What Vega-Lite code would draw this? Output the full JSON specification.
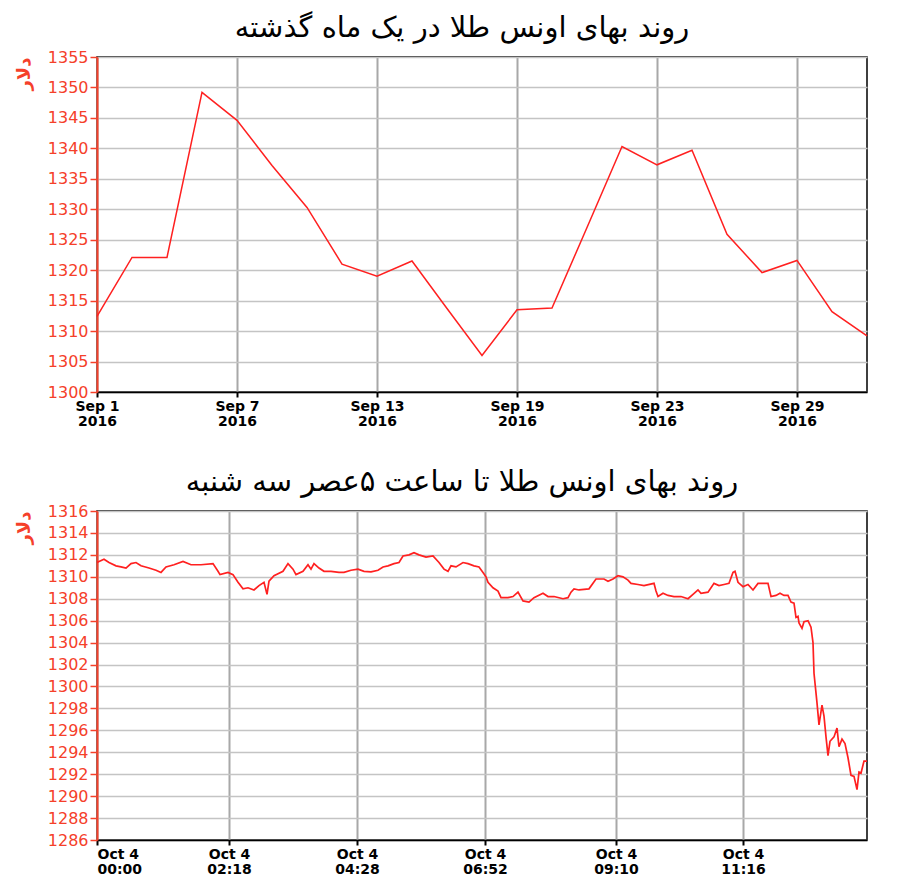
{
  "$schema": "https://vega.github.io/schema/vega-lite/v6.json",
  "padding": {"left": 14, "top": 13, "right": 20, "bottom": 10},
  "spacing": 38,
  "datasets": {
    "month": [
      {"date": "Sep 1", "price": 1312.4},
      {"date": "Sep 2", "price": 1322.1},
      {"date": "Sep 5", "price": 1322.1},
      {"date": "Sep 6", "price": 1349.2},
      {"date": "Sep 7", "price": 1344.6},
      {"date": "Sep 8", "price": 1337.2},
      {"date": "Sep 9", "price": 1330.3},
      {"date": "Sep 12", "price": 1321.0},
      {"date": "Sep 13", "price": 1319.0},
      {"date": "Sep 14", "price": 1321.5},
      {"date": "Sep 15", "price": 1313.7},
      {"date": "Sep 16", "price": 1306.0},
      {"date": "Sep 19", "price": 1313.5},
      {"date": "Sep 20", "price": 1313.8},
      {"date": "Sep 21", "price": 1327.0},
      {"date": "Sep 22", "price": 1340.3},
      {"date": "Sep 23", "price": 1337.3},
      {"date": "Sep 26", "price": 1339.7},
      {"date": "Sep 27", "price": 1325.9},
      {"date": "Sep 28", "price": 1319.6},
      {"date": "Sep 29", "price": 1321.6},
      {"date": "Sep 30", "price": 1313.2},
      {"date": "Oct 3", "price": 1309.2}
    ],
    "today": [
      {"i": 0, "price": 1311.3}, {"i": 2, "price": 1311.4}, {"i": 7, "price": 1311.6},
      {"i": 12, "price": 1311.3}, {"i": 19, "price": 1311.0}, {"i": 24, "price": 1310.9},
      {"i": 29, "price": 1310.8}, {"i": 34, "price": 1311.2}, {"i": 39, "price": 1311.3},
      {"i": 44, "price": 1311.0}, {"i": 52, "price": 1310.8}, {"i": 59, "price": 1310.6},
      {"i": 64, "price": 1310.4}, {"i": 69, "price": 1310.9}, {"i": 77, "price": 1311.1},
      {"i": 86, "price": 1311.4}, {"i": 94, "price": 1311.1}, {"i": 104, "price": 1311.1},
      {"i": 116, "price": 1311.2}, {"i": 121, "price": 1310.5}, {"i": 123, "price": 1310.2},
      {"i": 131, "price": 1310.4}, {"i": 136, "price": 1310.2}, {"i": 141, "price": 1309.5},
      {"i": 146, "price": 1308.9}, {"i": 151, "price": 1309.0}, {"i": 157, "price": 1308.8},
      {"i": 162, "price": 1309.2}, {"i": 167, "price": 1309.5}, {"i": 170, "price": 1308.4},
      {"i": 172, "price": 1309.6}, {"i": 177, "price": 1310.1}, {"i": 186, "price": 1310.5},
      {"i": 191, "price": 1311.2}, {"i": 196, "price": 1310.7}, {"i": 199, "price": 1310.2},
      {"i": 206, "price": 1310.5}, {"i": 211, "price": 1311.1}, {"i": 214, "price": 1310.7},
      {"i": 217, "price": 1311.2}, {"i": 222, "price": 1310.8}, {"i": 227, "price": 1310.5},
      {"i": 234, "price": 1310.5}, {"i": 242, "price": 1310.4}, {"i": 247, "price": 1310.4},
      {"i": 254, "price": 1310.6}, {"i": 261, "price": 1310.7}, {"i": 267, "price": 1310.5},
      {"i": 274, "price": 1310.45}, {"i": 281, "price": 1310.6}, {"i": 286, "price": 1310.9},
      {"i": 291, "price": 1311.0}, {"i": 297, "price": 1311.2}, {"i": 302, "price": 1311.3},
      {"i": 306, "price": 1311.9}, {"i": 312, "price": 1312.0}, {"i": 317, "price": 1312.2},
      {"i": 322, "price": 1312.0}, {"i": 329, "price": 1311.8}, {"i": 336, "price": 1311.9},
      {"i": 342, "price": 1311.3}, {"i": 347, "price": 1310.7}, {"i": 351, "price": 1310.5},
      {"i": 354, "price": 1311.0}, {"i": 359, "price": 1310.9}, {"i": 366, "price": 1311.3},
      {"i": 371, "price": 1311.2}, {"i": 377, "price": 1311.0}, {"i": 382, "price": 1310.9},
      {"i": 386, "price": 1310.4}, {"i": 389, "price": 1310.0}, {"i": 391, "price": 1309.5},
      {"i": 396, "price": 1309.0}, {"i": 401, "price": 1308.7}, {"i": 404, "price": 1308.1},
      {"i": 411, "price": 1308.1}, {"i": 416, "price": 1308.2}, {"i": 421, "price": 1308.6},
      {"i": 426, "price": 1307.8}, {"i": 432, "price": 1307.7}, {"i": 437, "price": 1308.1},
      {"i": 446, "price": 1308.5}, {"i": 451, "price": 1308.2}, {"i": 457, "price": 1308.2},
      {"i": 466, "price": 1308.0}, {"i": 471, "price": 1308.1}, {"i": 474, "price": 1308.6},
      {"i": 477, "price": 1308.9}, {"i": 482, "price": 1308.8}, {"i": 492, "price": 1308.9},
      {"i": 499, "price": 1309.8}, {"i": 507, "price": 1309.8}, {"i": 511, "price": 1309.6},
      {"i": 516, "price": 1309.8}, {"i": 521, "price": 1310.1}, {"i": 526, "price": 1310.0},
      {"i": 531, "price": 1309.7}, {"i": 534, "price": 1309.4}, {"i": 541, "price": 1309.3},
      {"i": 547, "price": 1309.2}, {"i": 557, "price": 1309.4}, {"i": 559, "price": 1308.7},
      {"i": 561, "price": 1308.2}, {"i": 566, "price": 1308.5}, {"i": 571, "price": 1308.3},
      {"i": 577, "price": 1308.2}, {"i": 584, "price": 1308.2}, {"i": 591, "price": 1308.0},
      {"i": 596, "price": 1308.4}, {"i": 601, "price": 1308.8}, {"i": 604, "price": 1308.5},
      {"i": 611, "price": 1308.6}, {"i": 617, "price": 1309.4}, {"i": 622, "price": 1309.2},
      {"i": 627, "price": 1309.3}, {"i": 632, "price": 1309.4}, {"i": 636, "price": 1310.4},
      {"i": 638, "price": 1310.5}, {"i": 641, "price": 1309.5}, {"i": 646, "price": 1309.1},
      {"i": 651, "price": 1309.3}, {"i": 656, "price": 1308.8}, {"i": 661, "price": 1309.4},
      {"i": 666, "price": 1309.4}, {"i": 671, "price": 1309.4}, {"i": 674, "price": 1308.2},
      {"i": 679, "price": 1308.3}, {"i": 683, "price": 1308.5}, {"i": 687, "price": 1308.3},
      {"i": 691, "price": 1308.3}, {"i": 694, "price": 1307.7}, {"i": 697, "price": 1307.6},
      {"i": 699, "price": 1306.3}, {"i": 701, "price": 1306.4}, {"i": 702, "price": 1305.8},
      {"i": 705, "price": 1305.3}, {"i": 707, "price": 1305.9}, {"i": 711, "price": 1306.0},
      {"i": 714, "price": 1305.4}, {"i": 716, "price": 1304.0}, {"i": 717, "price": 1301.2},
      {"i": 720, "price": 1298.5}, {"i": 722, "price": 1296.5}, {"i": 725, "price": 1298.3},
      {"i": 727, "price": 1297.3}, {"i": 729, "price": 1295.4}, {"i": 731, "price": 1293.7},
      {"i": 733, "price": 1295.0}, {"i": 737, "price": 1295.4}, {"i": 740, "price": 1296.2},
      {"i": 742, "price": 1294.5}, {"i": 745, "price": 1295.2}, {"i": 748, "price": 1294.8},
      {"i": 751, "price": 1293.5}, {"i": 754, "price": 1291.9}, {"i": 757, "price": 1291.8},
      {"i": 760, "price": 1290.6}, {"i": 762, "price": 1292.2}, {"i": 764, "price": 1292.1},
      {"i": 767, "price": 1293.2}, {"i": 770, "price": 1293.2}
    ]
  },
  "vconcat": [
    {
      "title": {"text": "روند بهای اونس طلا در یک ماه گذشته", "dx": -20},
      "width": 770,
      "height": 335,
      "data": {"name": "month"},
      "mark": {"type": "line", "color": "#ff2020", "strokeWidth": 1.5},
      "encoding": {
        "x": {
          "field": "date",
          "type": "ordinal",
          "sort": null,
          "scale": {"type": "point", "padding": 0},
          "axis": {
            "values": ["Sep 1", "Sep 7", "Sep 13", "Sep 19", "Sep 23", "Sep 29"],
            "labelExpr": "[datum.label, '2016']",
            "title": null
          }
        },
        "y": {
          "field": "price",
          "type": "quantitative",
          "scale": {"domain": [1300, 1355], "nice": false, "zero": false},
          "axis": {
            "values": [1300, 1305, 1310, 1315, 1320, 1325, 1330, 1335, 1340, 1345, 1350, 1355],
            "format": "d",
            "title": "دلار"
          }
        }
      }
    },
    {
      "title": {"text": "روند بهای اونس طلا تا ساعت ۵عصر سه شنبه", "dx": -20},
      "width": 770,
      "height": 329,
      "data": {"name": "today"},
      "mark": {"type": "line", "color": "#ff2020", "strokeWidth": 1.7},
      "encoding": {
        "x": {
          "field": "i",
          "type": "quantitative",
          "scale": {"domain": [0, 770], "nice": false, "zero": false},
          "axis": {
            "values": [0, 132, 260, 388, 519, 646],
            "labelExpr": "['Oct 4', datum.value == 0 ? '00:00' : datum.value == 132 ? '02:18' : datum.value == 260 ? '04:28' : datum.value == 388 ? '06:52' : datum.value == 519 ? '09:10' : '11:16']",
            "title": null
          }
        },
        "y": {
          "field": "price",
          "type": "quantitative",
          "scale": {"domain": [1286, 1316], "nice": false, "zero": false},
          "axis": {
            "values": [1286, 1288, 1290, 1292, 1294, 1296, 1298, 1300, 1302, 1304, 1306, 1308, 1310, 1312, 1314, 1316],
            "format": "d",
            "title": "دلار"
          }
        }
      }
    }
  ],
  "config": {
    "background": "white",
    "view": {"stroke": "black", "strokeWidth": 1.5},
    "title": {
      "font": "DejaVu Sans",
      "fontSize": 29,
      "fontWeight": "normal",
      "color": "black",
      "offset": 6
    },
    "axisX": {
      "labelAngle": 0,
      "labelFont": "DejaVu Sans",
      "labelFontWeight": "bold",
      "labelFontSize": 14,
      "labelColor": "black",
      "labelLineHeight": 15,
      "labelPadding": 2,
      "tickColor": "black",
      "tickSize": 5,
      "tickWidth": 2,
      "domainColor": "black",
      "domainWidth": 1.5,
      "grid": true,
      "gridColor": "#a8a8a8",
      "gridWidth": 2
    },
    "axisY": {
      "labelFont": "DejaVu Sans",
      "labelFontSize": 16,
      "labelColor": "#f5402a",
      "labelPadding": 2,
      "tickColor": "#f5402a",
      "tickSize": 7,
      "tickWidth": 1.5,
      "domainColor": "#f5402a",
      "domainWidth": 2,
      "grid": true,
      "gridColor": "#c4c4c4",
      "gridWidth": 1.5,
      "titleColor": "#f5402a",
      "titleFont": "DejaVu Sans",
      "titleFontSize": 18,
      "titleFontWeight": "bold",
      "titleAnchor": "end",
      "titlePadding": 14
    }
  }
}
